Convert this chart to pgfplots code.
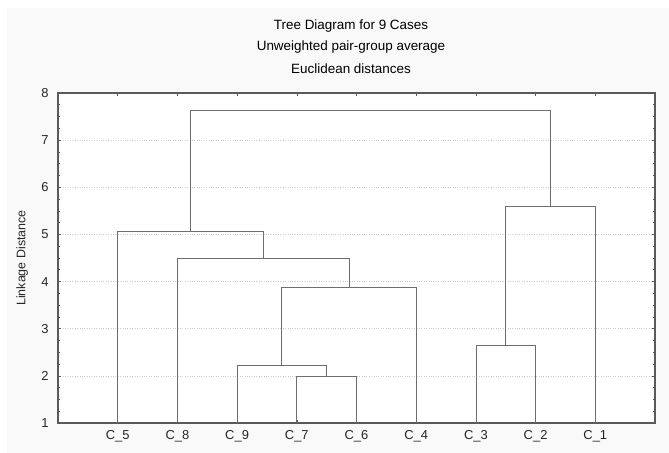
\documentclass[border=0pt]{standalone}
\usepackage{pgfplots}
\pgfplotsset{compat=1.18}
\usepackage{fontspec}
\setmainfont{Liberation Sans}
\definecolor{bgc}{RGB}{249,249,249}
\definecolor{axc}{RGB}{90,90,90}
\definecolor{lnc}{RGB}{110,110,110}
\definecolor{grc}{RGB}{205,205,205}
\begin{document}
\begin{tikzpicture}
\fill[white] (-58bp,-30bp) rectangle (611bp,423bp);
\fill[bgc] (-51bp,-30bp) rectangle (611bp,415bp);
\node[font=\fontsize{13.5}{15}\selectfont] at (293bp,397bp) {Tree Diagram for 9 Cases};
\node[font=\fontsize{13.5}{15}\selectfont] at (293bp,376bp) {Unweighted pair-group average};
\node[font=\fontsize{13.5}{15}\selectfont] at (293bp,354bp) {Euclidean distances};
\begin{axis}[
  at={(0,0)}, anchor=south west,
  scale only axis, width=597bp, height=330bp,
  xmin=0, xmax=10, ymin=1, ymax=8,
  axis background/.style={fill=white},
  axis line style={axc, line width=1.2pt},
  xtick={1,2,3,4,5,6,7,8,9},
  xticklabels={C\_5,C\_8,C\_9,C\_7,C\_6,C\_4,C\_3,C\_2,C\_1},
  ytick={1,2,3,4,5,6,7,8},
  minor y tick num=3,
  tick align=inside, tick pos=both,
  major tick length=3bp, minor tick length=2bp,
  tick style={axc, line width=0.6pt},
  ymajorgrids, grid style={grc, dotted, line width=0.7pt},
  /pgf/number format/assume math mode=true,
  ticklabel style={font=\fontsize{13}{15}\selectfont, text=black!85},
  xticklabel style={yshift=-4bp},
  yticklabel style={xshift=-6bp},
  ylabel={Linkage Distance},
  ylabel style={at={(axis description cs:-0.06,0.5)}, anchor=center, font=\fontsize{12.5}{14}\selectfont, text=black!85},
  clip=false,
]
% C_7 - C_6
\addplot[lnc, line width=0.8pt] coordinates {(4,1) (4,1.98) (5,1.98) (5,1)};
% C_9 - (C_7,C_6)
\addplot[lnc, line width=0.8pt] coordinates {(3,1) (3,2.22) (4.5,2.22) (4.5,1.98)};
% (C_9..) - C_4
\addplot[lnc, line width=0.8pt] coordinates {(3.75,2.22) (3.75,3.87) (6,3.87) (6,1)};
% C_8 - (...)
\addplot[lnc, line width=0.8pt] coordinates {(2,1) (2,4.50) (4.875,4.50) (4.875,3.87)};
% C_5 - (...)
\addplot[lnc, line width=0.8pt] coordinates {(1,1) (1,5.06) (3.4375,5.06) (3.4375,4.50)};
% C_3 - C_2
\addplot[lnc, line width=0.8pt] coordinates {(7,1) (7,2.64) (8,2.64) (8,1)};
% (C_3,C_2) - C_1
\addplot[lnc, line width=0.8pt] coordinates {(7.5,2.64) (7.5,5.59) (9,5.59) (9,1)};
% top
\addplot[lnc, line width=0.8pt] coordinates {(2.21875,5.06) (2.21875,7.64) (8.25,7.64) (8.25,5.59)};
\end{axis}
\end{tikzpicture}
\end{document}
